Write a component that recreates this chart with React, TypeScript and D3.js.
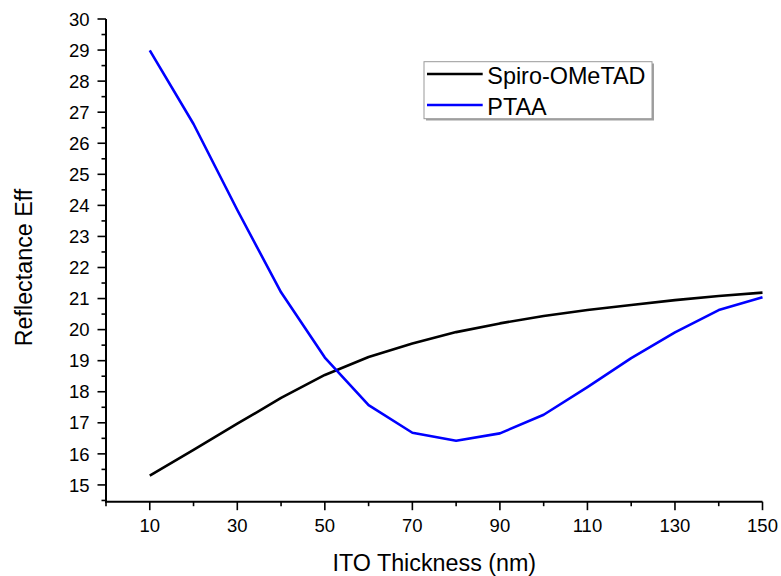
import React from "react";
import * as d3 from "d3";

const thickness = [10, 20, 30, 40, 50, 60, 70, 80, 90, 100, 110, 120, 130, 140, 150];
const spiro = [15.3, 16.13, 16.97, 17.8, 18.54, 19.12, 19.55, 19.92, 20.2, 20.44, 20.63, 20.79, 20.95, 21.08, 21.19];
const ptaa = [28.99, 26.62, 23.85, 21.2, 19.1, 17.57, 16.68, 16.42, 16.66, 17.26, 18.15, 19.08, 19.91, 20.63, 21.04];
const xMajorTicks = [10, 30, 50, 70, 90, 110, 130, 150];
const xMinorTicks = [0, 20, 40, 60, 80, 100, 120, 140];
const yMajorTicks = [15, 16, 17, 18, 19, 20, 21, 22, 23, 24, 25, 26, 27, 28, 29, 30];
const yMinorTicks = [14.5, 15.5, 16.5, 17.5, 18.5, 19.5, 20.5, 21.5, 22.5, 23.5, 24.5, 25.5, 26.5, 27.5, 28.5, 29.5];
const seriesNames = ["Spiro-OMeTAD", "PTAA"];
const seriesColors = ["#000000", "#0000ff"];

export default function App() {
  const W = 781, H = 576;
  const x = d3.scaleLinear().domain([0, 150]).range([106, 762.5]);
  const y = d3.scaleLinear().domain([14.46, 30]).range([501.7, 19]);
  const line = d3
    .line<number>()
    .x((_, i) => x(thickness[i]))
    .y((d) => y(d));
  const font = "'Liberation Sans', Arial, sans-serif";
  const axisY = y(14.46);
  const axisX = x(0);
  return (
    <svg width={W} height={H} style={{ position: "absolute", left: 0, top: 0, background: "#fff" }}>
      <rect x={0} y={0} width={W} height={H} fill="#ffffff" />
      {[spiro, ptaa].map((s, k) => (
        <path key={k} d={line(s) || ""} fill="none" stroke={seriesColors[k]} strokeWidth={2.6} strokeLinejoin="round" />
      ))}
      <line x1={axisX} x2={axisX} y1={y(30)} y2={axisY + 1} stroke="#000" strokeWidth={2} />
      <line x1={axisX - 1} x2={x(150)} y1={axisY} y2={axisY} stroke="#000" strokeWidth={2} />
      {yMajorTicks.map((t) => (
        <g key={"ym" + t}>
          <line x1={axisX - 8.5} x2={axisX} y1={y(t)} y2={y(t)} stroke="#000" strokeWidth={1.6} />
          <text x={89.5} y={y(t)} dy="0.36em" textAnchor="end" fontFamily={font} fontSize={18.5} fill="#000">
            {t}
          </text>
        </g>
      ))}
      {yMinorTicks.map((t) => (
        <line key={"yn" + t} x1={axisX - 4.5} x2={axisX} y1={y(t)} y2={y(t)} stroke="#000" strokeWidth={1.6} />
      ))}
      {xMajorTicks.map((t) => (
        <g key={"xm" + t}>
          <line x1={x(t)} x2={x(t)} y1={axisY} y2={axisY + 8.5} stroke="#000" strokeWidth={1.6} />
          <text x={x(t)} y={531.5} textAnchor="middle" fontFamily={font} fontSize={18.5} fill="#000">
            {t}
          </text>
        </g>
      ))}
      {xMinorTicks.map((t) => (
        <line key={"xn" + t} x1={x(t)} x2={x(t)} y1={axisY} y2={axisY + 4.5} stroke="#000" strokeWidth={1.6} />
      ))}
      <text x={434.3} y={570.5} textAnchor="middle" fontFamily={font} fontSize={23.3} fill="#000">
        ITO Thickness (nm)
      </text>
      <text
        transform={`translate(31.5, 267.5) rotate(-90)`}
        textAnchor="middle"
        fontFamily={font}
        fontSize={23.3}
        fill="#000"
      >
        Reflectance Eff
      </text>
      <rect x={426} y={63.5} width={228} height={57} fill="#a0a0a0" />
      <rect x={424} y={61.7} width={228} height={57} fill="#ffffff" stroke="#9a9a9a" strokeWidth={1} />
      {seriesNames.map((n, k) => (
        <g key={n}>
          <line x1={427} x2={482.7} y1={74 + k * 31} y2={74 + k * 31} stroke={seriesColors[k]} strokeWidth={2.6} />
          <text x={487.3} y={84.3 + k * 30.7} fontFamily={font} fontSize={23.4} fill="#000">
            {n}
          </text>
        </g>
      ))}
    </svg>
  );
}
